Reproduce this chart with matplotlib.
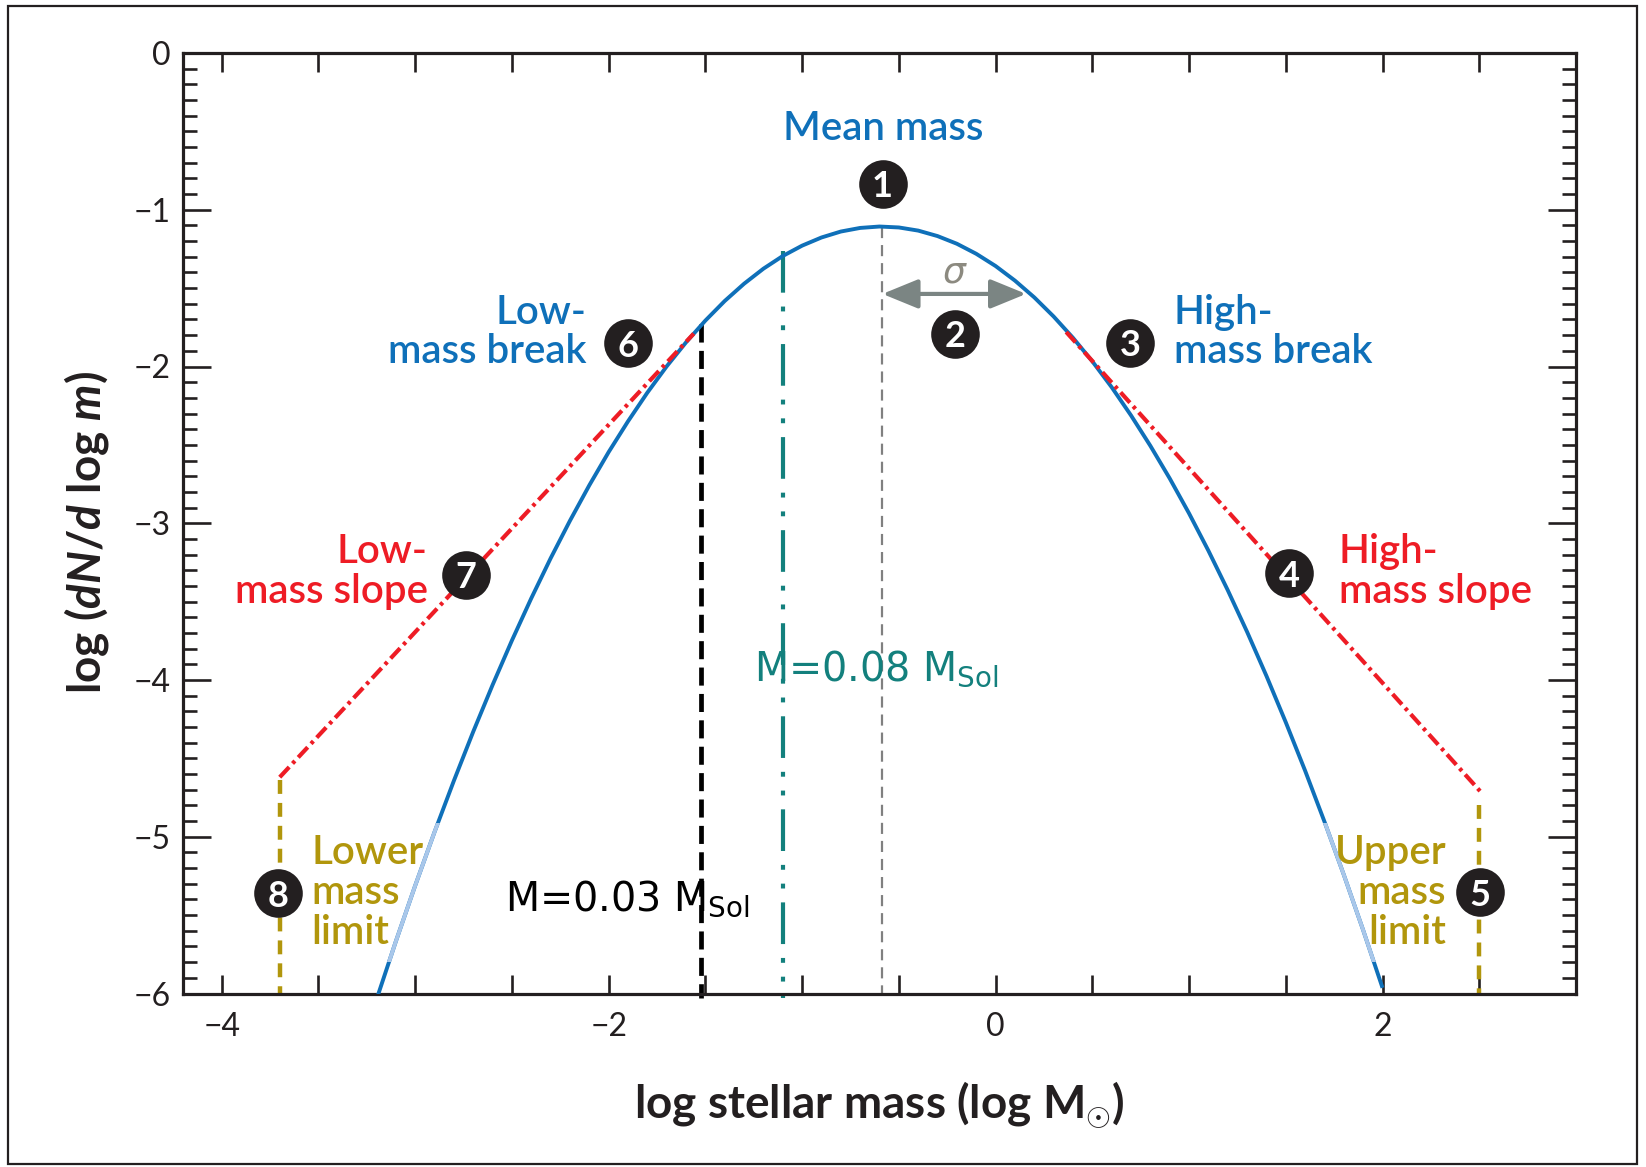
import numpy as np
import matplotlib
matplotlib.use("Agg")
import matplotlib.pyplot as plt
from matplotlib.ticker import MultipleLocator, FixedLocator
from matplotlib.patches import Rectangle

plt.rcParams["font.family"] = ["Lato", "DejaVu Sans"]
plt.rcParams["mathtext.fontset"] = "custom"
plt.rcParams["mathtext.rm"] = "Lato:bold"
plt.rcParams["mathtext.it"] = "Lato:italic:bold"
plt.rcParams["mathtext.bf"] = "Lato:bold"
plt.rcParams["mathtext.sf"] = "DejaVu Sans"
plt.rcParams["axes.unicode_minus"] = True
plt.rcParams["lines.scale_dashes"] = False

# ---- data -------------------------------------------------------------
# log-normal IMF: log(dN/dlog m) against log m
curve_x = [-3.2, -3.1, -3.0, -2.9, -2.8, -2.7, -2.6, -2.5, -2.4, -2.3,
           -2.2, -2.1, -2.0, -1.9, -1.8, -1.7, -1.6, -1.5, -1.4, -1.3,
           -1.2, -1.1, -1.0, -0.9, -0.8, -0.7, -0.6, -0.5, -0.4, -0.3,
           -0.2, -0.1, 0.0, 0.1, 0.2, 0.3, 0.4, 0.5, 0.6, 0.7,
           0.8, 0.9, 1.0, 1.1, 1.2, 1.3, 1.4, 1.5, 1.6, 1.7,
           1.8, 1.9, 2.0]
curve_y = [-6.039, -5.668, -5.312, -4.970, -4.643, -4.330, -4.032, -3.748, -3.479, -3.224,
           -2.984, -2.758, -2.546, -2.350, -2.167, -1.999, -1.846, -1.707, -1.582, -1.472,
           -1.376, -1.295, -1.229, -1.177, -1.139, -1.116, -1.107, -1.113, -1.133, -1.168,
           -1.217, -1.281, -1.359, -1.452, -1.559, -1.681, -1.817, -1.967, -2.132, -2.312,
           -2.506, -2.714, -2.937, -3.175, -3.427, -3.693, -3.974, -4.270, -4.579, -4.904,
           -5.243, -5.596, -5.964]
# poorly constrained (faded) part of the curve, in log dN/dlog m
faded_band = [-5.80, -4.91]

# power-law tails
low_slope_x = [-3.70, -1.56]
low_slope_y = [-4.62, -1.79]
high_slope_x = [0.365, 2.505]
high_slope_y = [-1.78, -4.71]

# mass limits (log m) and where their markers start
lower_limit_x, lower_limit_top = -3.70, -4.64
upper_limit_x, upper_limit_top = 2.50, -4.80

# characteristic mass and width
mean_logm = -0.585
peak_logn = -1.107
sigma_end = 0.158
sigma_y = -1.537

# reference masses (in solar masses)
m_brown = 0.03
m_hbl = 0.08
m_brown_top = -1.73
m_hbl_top = -1.26

badge_num = ["1", "2", "3", "4", "5", "6", "7", "8"]
badge_x = [-0.584, -0.212, 0.697, 1.517, 2.505, -1.900, -2.736, -3.707]
badge_y = [-0.835, -1.790, -1.848, -3.318, -5.355, -1.851, -3.329, -5.359]

x_ticks = [-4, -2, 0, 2]
y_ticks = [0, -1, -2, -3, -4, -5, -6]

# ---- colours ----------------------------------------------------------
BLUE = "#0f70b9"
LIGHT = "#a9c7ea"
RED = "#ee1c25"
OLIVE = "#b1960c"
TEAL = "#13807d"
GREY = "#808080"
INK = "#231f20"

fig = plt.figure(figsize=(16.46, 11.67), dpi=100)
ax = fig.add_axes([183 / 1646, 1 - 993.5 / 1167, (1576 - 183) / 1646, (993.5 - 53) / 1167])
ax.set_xlim(-4.2, 3.0)
ax.set_ylim(-6, 0)

# outer frame
fig.patches.append(Rectangle((8 / 1646, 3 / 1167), 1629 / 1646, 1158 / 1167,
                             transform=fig.transFigure, fill=False, lw=1.6, ec=INK))

# mean-mass marker
ax.plot([mean_logm, mean_logm], [peak_logn, -6], color=GREY, lw=1.6,
        dashes=(8, 5), zorder=2)

# reference mass markers
xb = np.log10(m_brown)
xh = np.log10(m_hbl)
ax.plot([xb, xb], [m_brown_top, -6.03], color="black", lw=3.4, dashes=(13, 6),
        clip_on=False, zorder=2)
ax.plot([xh, xh], [m_hbl_top, -6.03], color=TEAL, lw=3.0,
        dashes=(30, 10, 3.5, 10, 3.5, 10), clip_on=False, zorder=2)

# curve
ax.plot(curve_x, curve_y, color=BLUE, lw=2.8, solid_capstyle="butt", zorder=3)
faded, = ax.plot(curve_x, curve_y, color=LIGHT, lw=2.8, solid_capstyle="butt", zorder=3.5)
faded.set_clip_path(Rectangle((-4.2, faded_band[0]), 7.2, faded_band[1] - faded_band[0],
                              transform=ax.transData))

# power-law tails
dd = (10, 3.5, 2.5, 3.5)
ax.plot(low_slope_x, low_slope_y, color=RED, lw=3.0, dashes=dd, zorder=4)
ax.plot(high_slope_x, high_slope_y, color=RED, lw=3.0, dashes=dd, zorder=4)

# mass limits
ax.plot([lower_limit_x, lower_limit_x], [lower_limit_top, -6], color=OLIVE, lw=3.2,
        dashes=(10, 6.5), zorder=2)
ax.plot([upper_limit_x, upper_limit_x], [upper_limit_top, -6], color=OLIVE, lw=3.2,
        dashes=(10, 6.5), zorder=2)

# sigma arrow
ax.annotate("", xy=(sigma_end, sigma_y), xytext=(mean_logm, sigma_y),
            arrowprops=dict(arrowstyle="<|-|>,head_length=1.1,head_width=0.45",
                            color="#7b8583", lw=3, mutation_scale=20,
                            shrinkA=0, shrinkB=0), zorder=5)
ax.text(-0.215, -1.40, "σ", color="#8c8a80", fontsize=26, ha="center", va="center",
        family=["DejaVu Sans"], style="italic")

# numbered badges
ax.scatter(badge_x, badge_y, s=35 ** 2, color=INK, zorder=6, linewidths=0)
for n, bx, by in zip(badge_num, badge_x, badge_y):
    ax.text(bx, by, n, color="white", fontsize=26, fontweight="bold",
            ha="center", va="center_baseline", zorder=7)

lab = dict(fontsize=29, fontweight="semibold", linespacing=1.09, zorder=6)
ax.text(-0.58, -0.48, "Mean mass", color=BLUE, ha="center", va="center", **lab)
ax.text(-2.115, -1.78, "Low-\nmass break", color=BLUE, ha="right", va="center", **lab)
ax.text(0.921, -1.78, "High-\nmass break", color=BLUE, ha="left", va="center", **lab)
ax.text(-2.935, -3.31, "Low-\nmass slope", color=RED, ha="right", va="center", **lab)
ax.text(1.775, -3.31, "High-\nmass slope", color=RED, ha="left", va="center", **lab)
ax.text(-3.538, -5.355, "Lower\nmass\nlimit", color=OLIVE, ha="left", va="center", **lab)
ax.text(2.33, -5.355, "Upper\nmass\nlimit", color=OLIVE, ha="right", va="center", **lab)

ax.text(-2.538, -5.40, r"M=0.03 M$_{\mathsf{Sol}}$", color="black", fontsize=28.5,
        family=["DejaVu Sans"], ha="left", va="center", zorder=6)
ax.text(-1.25, -3.93, r"M=0.08 M$_{\mathsf{Sol}}$", color=TEAL, fontsize=28.5,
        family=["DejaVu Sans"], ha="left", va="center", zorder=6)

# axes styling
for s in ax.spines.values():
    s.set_linewidth(2.3)
    s.set_color(INK)
ax.xaxis.set_major_locator(FixedLocator(x_ticks))
ax.xaxis.set_minor_locator(MultipleLocator(0.5))
ax.yaxis.set_major_locator(FixedLocator(y_ticks))
ax.yaxis.set_minor_locator(MultipleLocator(0.1))
ax.tick_params(axis="x", which="both", direction="in", top=True, bottom=True,
               length=14, width=1.9, color=INK, labelsize=23, labelcolor=INK, pad=13)
ax.tick_params(axis="y", which="major", direction="in", left=True, right=True,
               length=20, width=1.9, color=INK, labelsize=23, labelcolor=INK, pad=9)
ax.tick_params(axis="y", which="minor", direction="in", left=True, right=True,
               length=10, width=1.9, color=INK)

ax.set_xlabel(r"log stellar mass (log M$_{\odot}$)", fontsize=33, fontweight="bold",
              color=INK)
ax.xaxis.set_label_coords(0.5, -0.091)
ax.set_ylabel(r"log ($dN/d$ log $m$)", fontsize=33, fontweight="bold", color=INK)
ax.yaxis.set_label_coords(-0.052, 0.49)

fig.savefig("out.png", dpi=100)
